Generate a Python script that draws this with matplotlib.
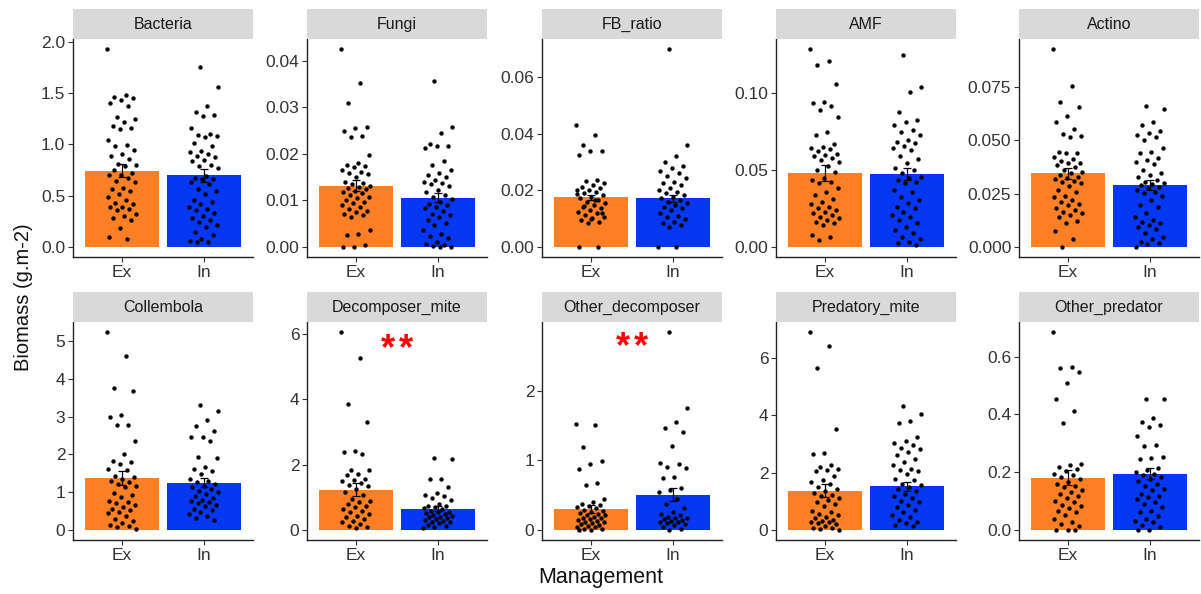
import numpy as np
import matplotlib
matplotlib.use("Agg")
import matplotlib.pyplot as plt

plt.rcParams['font.family'] = ['Liberation Sans', 'DejaVu Sans']

groups = ["Ex", "In"]
panels = ["Bacteria", "Fungi", "FB_ratio", "AMF", "Actino",
          "Collembola", "Decomposer_mite", "Other_decomposer", "Predatory_mite", "Other_predator"]

# bar heights (means) and standard errors: [Ex, In]
bar_mean = {
    "Bacteria": [0.744, 0.70], "Fungi": [0.0132, 0.0106], "FB_ratio": [0.0176, 0.0172],
    "AMF": [0.048, 0.0473], "Actino": [0.0345, 0.029], "Collembola": [1.38, 1.25],
    "Decomposer_mite": [1.24, 0.65], "Other_decomposer": [0.30, 0.51],
    "Predatory_mite": [1.38, 1.52], "Other_predator": [0.181, 0.195],
}
bar_se = {
    "Bacteria": [0.065, 0.065], "Fungi": [0.0012, 0.0010], "FB_ratio": [0.0009, 0.0012],
    "AMF": [0.0054, 0.004], "Actino": [0.0025, 0.0025], "Collembola": [0.19, 0.12],
    "Decomposer_mite": [0.19, 0.08], "Other_decomposer": [0.06, 0.09],
    "Predatory_mite": [0.24, 0.15], "Other_predator": [0.025, 0.02],
}

bacteria_ex = [1.93, 1.48, 1.46, 1.45, 1.43, 1.40, 1.37, 1.27, 1.25, 1.22, 1.18, 1.16, 1.15, 1.04, 0.99,
               0.98, 0.95, 0.91, 0.89, 0.86, 0.81, 0.80, 0.79, 0.75, 0.72, 0.70, 0.70, 0.67, 0.64, 0.63,
               0.58, 0.57, 0.55, 0.52, 0.49, 0.46, 0.43, 0.42, 0.39, 0.39, 0.37, 0.36, 0.32, 0.30, 0.28,
               0.26, 0.19, 0.10, 0.08]
bacteria_in = [1.75, 1.56, 1.37, 1.32, 1.29, 1.28, 1.16, 1.10, 1.09, 1.08, 1.07, 1.01, 0.98, 0.94, 0.93,
               0.91, 0.89, 0.88, 0.85, 0.84, 0.80, 0.79, 0.77, 0.69, 0.67, 0.66, 0.66, 0.63, 0.61, 0.57,
               0.55, 0.52, 0.46, 0.44, 0.42, 0.39, 0.37, 0.36, 0.33, 0.30, 0.28, 0.26, 0.24, 0.22, 0.20,
               0.15, 0.12, 0.08, 0.06, 0.05, 0.05]
fungi_ex = [0.0425, 0.0352, 0.031, 0.0257, 0.0255, 0.0248, 0.0239, 0.0236, 0.0198, 0.018, 0.0175, 0.0173,
            0.0171, 0.0166, 0.016, 0.0158, 0.0156, 0.0151, 0.014, 0.0137, 0.0135, 0.0131, 0.0128, 0.0126,
            0.0124, 0.0121, 0.0119, 0.0115, 0.0112, 0.0108, 0.0105, 0.0101, 0.0097, 0.0094, 0.009, 0.0087,
            0.0082, 0.0078, 0.0075, 0.0072, 0.0069, 0.0064, 0.0037, 0.0029, 0.0027, 0.0004, 0.0001, 0.0]
fungi_in = [0.0357, 0.0257, 0.0245, 0.0221, 0.0217, 0.0216, 0.0212, 0.0185, 0.0176, 0.0166, 0.0158, 0.0155,
            0.0151, 0.0144, 0.014, 0.0138, 0.0135, 0.013, 0.0123, 0.0119, 0.0112, 0.0108, 0.0103, 0.0097,
            0.0092, 0.009, 0.0087, 0.0083, 0.0078, 0.0072, 0.0069, 0.0065, 0.0058, 0.0052, 0.0047, 0.0037,
            0.0029, 0.0024, 0.0019, 0.0011, 0.0006, 0.0004, 0.0002, 0.0001, 0.0]
fb_ex = [0.043, 0.0397, 0.0361, 0.034, 0.0338, 0.0326, 0.0237, 0.0234, 0.0228, 0.022, 0.0214, 0.0208,
         0.0202, 0.020, 0.0196, 0.019, 0.0184, 0.0178, 0.0172, 0.0167, 0.0161, 0.0155, 0.0149, 0.0143,
         0.0137, 0.0131, 0.0125, 0.0119, 0.0113, 0.0107, 0.0102, 0.0096, 0.009, 0.0086, 0.0186, 0.0165,
         0.0145, 0.0122, 0.0098, 0.0, 0.0]
fb_in = [0.070, 0.0359, 0.0322, 0.0299, 0.0285, 0.0279, 0.0267, 0.0261, 0.0252, 0.0243, 0.0231, 0.0226,
         0.022, 0.021, 0.0202, 0.0196, 0.019, 0.0184, 0.0178, 0.0172, 0.0167, 0.0161, 0.0155, 0.0149,
         0.0143, 0.0137, 0.0131, 0.0119, 0.011, 0.0105, 0.0098, 0.009, 0.0084, 0.0078, 0.0072, 0.0, 0.0]
amf_ex = [0.1286, 0.121, 0.118, 0.1059, 0.0944, 0.0935, 0.0913, 0.0887, 0.0844, 0.0744, 0.0729, 0.067,
          0.0649, 0.0642, 0.0636, 0.0625, 0.0603, 0.0599, 0.0592, 0.0577, 0.0566, 0.0555, 0.0523, 0.0497,
          0.049, 0.0447, 0.0436, 0.0425, 0.0419, 0.0382, 0.036, 0.0338, 0.031, 0.0295, 0.028, 0.0262,
          0.0252, 0.0241, 0.023, 0.0219, 0.0208, 0.0197, 0.0187, 0.0176, 0.0165, 0.0154, 0.0143, 0.0078,
          0.0063, 0.0046]
amf_in = [0.1245, 0.1037, 0.1006, 0.0874, 0.0826, 0.0809, 0.0794, 0.0757, 0.0744, 0.0729, 0.0696, 0.0685,
          0.0675, 0.0653, 0.0642, 0.0631, 0.0592, 0.057, 0.0544, 0.0512, 0.0497, 0.0479, 0.0458, 0.0447,
          0.0436, 0.0425, 0.0414, 0.0371, 0.036, 0.0328, 0.0306, 0.0284, 0.0262, 0.0252, 0.023, 0.0208,
          0.0197, 0.0176, 0.0154, 0.0132, 0.0111, 0.0089, 0.0067, 0.005, 0.0035, 0.0024, 0.0013]
actino_ex = [0.0927, 0.0755, 0.0677, 0.0653, 0.0611, 0.0583, 0.0552, 0.0528, 0.052, 0.0514, 0.0447, 0.0442,
             0.0439, 0.0423, 0.0411, 0.0405, 0.0395, 0.0392, 0.0384, 0.0373, 0.0361, 0.0353, 0.0345, 0.0338,
             0.033, 0.0322, 0.0317, 0.0311, 0.0306, 0.0298, 0.0286, 0.0267, 0.0259, 0.0239, 0.0233, 0.022,
             0.0213, 0.0202, 0.0197, 0.0181, 0.0173, 0.0166, 0.0158, 0.015, 0.0139, 0.0123, 0.0114, 0.0077,
             0.0036, 0.0]
actino_in = [0.0658, 0.0647, 0.0583, 0.0572, 0.0544, 0.0536, 0.0525, 0.0514, 0.0502, 0.0463, 0.0447, 0.0439,
             0.0416, 0.0408, 0.040, 0.0389, 0.0361, 0.0345, 0.0338, 0.033, 0.0314, 0.0306, 0.0302, 0.0295,
             0.0291, 0.0283, 0.0275, 0.0267, 0.0259, 0.0252, 0.0239, 0.022, 0.0197, 0.0186, 0.0158, 0.0142,
             0.0127, 0.0119, 0.0114, 0.0103, 0.0092, 0.0083, 0.0064, 0.0048, 0.0036, 0.0025, 0.0017, 0.0013,
             0.0]
coll_ex = [5.24, 4.59, 3.75, 3.69, 3.03, 2.99, 2.78, 2.77, 2.35, 2.01, 1.82, 1.79, 1.75, 1.62, 1.59, 1.44,
           1.40, 1.35, 1.31, 1.26, 1.22, 1.17, 1.13, 0.98, 0.93, 0.87, 0.78, 0.75, 0.72, 0.66, 0.62, 0.57,
           0.54, 0.49, 0.44, 0.38, 0.29, 0.25, 0.19, 0.13, 0.10, 0.07, 0.03]
coll_in = [3.30, 3.16, 2.92, 2.75, 2.63, 2.47, 2.46, 2.35, 1.93, 1.90, 1.66, 1.62, 1.55, 1.48, 1.35, 1.31,
           1.26, 1.22, 1.17, 1.13, 1.09, 1.04, 1.00, 0.95, 0.89, 0.84, 0.80, 0.78, 0.75, 0.72, 0.66, 0.63,
           0.57, 0.54, 0.47, 0.42, 0.38, 0.31, 0.27]
dmite_ex = [6.06, 5.26, 3.85, 3.29, 2.41, 2.39, 2.32, 1.85, 1.83, 1.72, 1.67, 1.57, 1.52, 1.49, 1.45, 1.38,
            1.34, 1.26, 1.16, 1.06, 0.95, 0.90, 0.85, 0.80, 0.75, 0.70, 0.65, 0.59, 0.54, 0.49, 0.44, 0.39,
            0.34, 0.29, 0.24, 0.18, 0.13, 0.08, 0.05]
dmite_in = [2.21, 2.18, 1.57, 1.55, 1.31, 1.14, 1.08, 1.04, 0.97, 0.93, 0.80, 0.75, 0.73, 0.70, 0.67, 0.63,
            0.59, 0.56, 0.54, 0.51, 0.49, 0.46, 0.44, 0.41, 0.39, 0.36, 0.34, 0.31, 0.29, 0.26, 0.24, 0.21,
            0.17, 0.13, 0.08, 0.05]
odec_ex = [1.52, 1.51, 1.19, 0.99, 0.95, 0.88, 0.67, 0.65, 0.45, 0.40, 0.37, 0.36, 0.34, 0.33, 0.31, 0.29,
           0.28, 0.26, 0.24, 0.23, 0.22, 0.21, 0.19, 0.18, 0.17, 0.16, 0.14, 0.13, 0.12, 0.11, 0.10, 0.09,
           0.07, 0.06, 0.05, 0.04, 0.02, 0.01, 0.0, 0.0]
odec_in = [2.84, 1.75, 1.55, 1.47, 1.40, 1.21, 0.96, 0.95, 0.91, 0.89, 0.76, 0.74, 0.60, 0.58, 0.54, 0.44,
           0.37, 0.31, 0.26, 0.23, 0.21, 0.19, 0.18, 0.17, 0.16, 0.14, 0.13, 0.12, 0.11, 0.10, 0.09, 0.07,
           0.05, 0.02, 0.0]
pmite_ex = [6.91, 6.43, 5.65, 3.52, 2.70, 2.67, 2.26, 2.20, 2.14, 2.08, 2.05, 1.88, 1.73, 1.67, 1.61, 1.50,
            1.42, 1.35, 1.30, 1.23, 1.18, 1.11, 1.06, 0.99, 0.91, 0.83, 0.68, 0.62, 0.56, 0.53, 0.44, 0.41,
            0.36, 0.33, 0.29, 0.27, 0.25, 0.21, 0.15, 0.09, 0.06, 0.04, 0.0]
pmite_in = [4.34, 4.04, 3.81, 3.72, 3.25, 3.11, 3.02, 2.98, 2.87, 2.82, 2.73, 2.61, 2.49, 2.37, 2.28, 2.14,
            2.08, 2.05, 1.96, 1.79, 1.73, 1.61, 1.56, 1.50, 1.42, 1.35, 1.26, 1.20, 1.11, 1.03, 0.97, 0.88,
            0.80, 0.71, 0.62, 0.53, 0.44, 0.36, 0.29, 0.25, 0.18, 0.13]
opred_ex = [0.685, 0.565, 0.56, 0.548, 0.51, 0.452, 0.411, 0.371, 0.229, 0.224, 0.218, 0.212, 0.203, 0.195,
            0.189, 0.183, 0.177, 0.166, 0.16, 0.154, 0.148, 0.14, 0.133, 0.125, 0.119, 0.11, 0.102, 0.096,
            0.087, 0.082, 0.075, 0.067, 0.061, 0.052, 0.038, 0.027, 0.021, 0.015, 0.0, 0.0, 0.0]
opred_in = [0.453, 0.452, 0.386, 0.372, 0.363, 0.357, 0.325, 0.295, 0.291, 0.253, 0.249, 0.247, 0.214, 0.206,
            0.20, 0.195, 0.189, 0.183, 0.177, 0.171, 0.16, 0.154, 0.142, 0.137, 0.125, 0.119, 0.114, 0.108,
            0.098, 0.09, 0.079, 0.067, 0.061, 0.05, 0.038, 0.032, 0.027, 0.017, 0.009, 0.0, 0.0]

points = {
    "Bacteria": [bacteria_ex, bacteria_in], "Fungi": [fungi_ex, fungi_in], "FB_ratio": [fb_ex, fb_in],
    "AMF": [amf_ex, amf_in], "Actino": [actino_ex, actino_in], "Collembola": [coll_ex, coll_in],
    "Decomposer_mite": [dmite_ex, dmite_in], "Other_decomposer": [odec_ex, odec_in],
    "Predatory_mite": [pmite_ex, pmite_in], "Other_predator": [opred_ex, opred_in],
}

yticks = {
    "Bacteria": ([0, 0.5, 1.0, 1.5, 2.0], "{:.1f}"), "Fungi": ([0, 0.01, 0.02, 0.03, 0.04], "{:.2f}"),
    "FB_ratio": ([0, 0.02, 0.04, 0.06], "{:.2f}"), "AMF": ([0, 0.05, 0.10], "{:.2f}"),
    "Actino": ([0, 0.025, 0.05, 0.075], "{:.3f}"), "Collembola": ([0, 1, 2, 3, 4, 5], "{:.0f}"),
    "Decomposer_mite": ([0, 2, 4, 6], "{:.0f}"), "Other_decomposer": ([0, 1, 2], "{:.0f}"),
    "Predatory_mite": ([0, 2, 4, 6], "{:.0f}"), "Other_predator": ([0, 0.2, 0.4, 0.6], "{:.1f}"),
}

# significance annotations: panel -> (label, y of glyph centre)
signif = {"Decomposer_mite": ("**", 5.85), "Other_decomposer": ("**", 2.77)}

colors = ["#FF7F24", "#0437F2"]

W, H = 1201, 594
fig = plt.figure(figsize=(W / 100, H / 100), dpi=100)

lefts = [73, 307, 542, 776, 1019]
pw = 180
rows = [(39, 257), (322, 540)]
strip_h = 30

golden = 0.6180339887
star_fs = 26

for i, name in enumerate(panels):
    r, c = divmod(i, 5)
    top, bottom = rows[r]
    ax = fig.add_axes([lefts[c] / W, (H - bottom) / H, pw / W, (bottom - top) / H])
    sax = fig.add_axes([lefts[c] / W, (H - top) / H, pw / W, strip_h / H])
    sax.set_xticks([]); sax.set_yticks([])
    for s in sax.spines.values():
        s.set_visible(False)
    sax.set_facecolor("#D9D9D9")
    sax.text(0.5, 0.47, name, ha="center", va="center", fontsize=11.5, color="#1A1A1A",
             transform=sax.transAxes)

    xs = np.arange(1, 3)
    ax.bar(xs, bar_mean[name], width=0.9, color=colors, zorder=1)
    allmax = 0
    for k, vals in enumerate(points[name]):
        vals = np.asarray(vals)
        n = len(vals)
        offs = ((np.arange(n) * golden + 0.37 * k) % 1.0 - 0.5) * 0.36
        ax.scatter(xs[k] + offs, vals, s=10, color="black", zorder=3, linewidths=0)
        allmax = max(allmax, vals.max())
    ax.errorbar(xs, bar_mean[name], yerr=bar_se[name], fmt="none", ecolor="black",
                elinewidth=0.9, capsize=3, capthick=0.9, zorder=4)
    if name in signif:
        lab, yy = signif[name]
        nch = len(lab)
        for j, ch in enumerate(lab):
            ax.annotate(ch, xy=(1.5, yy), xytext=((j - (nch - 1) / 2) * 12.5, -0.57 * star_fs),
                        textcoords="offset points", ha="center", va="baseline",
                        color="red", fontsize=star_fs, fontweight="bold")
    ymin = 0
    rng = allmax - ymin
    ax.set_ylim(ymin - 0.05 * rng, allmax + 0.05 * rng)
    ax.set_xlim(0.4, 2.6)
    ticks, fmt = yticks[name]
    ax.set_yticks(ticks)
    ax.set_yticklabels([fmt.format(t) for t in ticks])
    ax.set_xticks(xs)
    ax.set_xticklabels(groups)
    for s in ["top", "right"]:
        ax.spines[s].set_visible(False)
    for s in ["left", "bottom"]:
        ax.spines[s].set_color("#222222")
        ax.spines[s].set_linewidth(1.0)
    ax.tick_params(axis="both", labelsize=12.5, colors="#333333", length=3.5, width=0.8,
                   labelcolor="#333333", pad=2)

fig.text(0.5, (H - 578) / H, "Management", ha="center", va="center", fontsize=15.5, color="#111111")
fig.text(24 / W, 0.5, "Biomass (g.m-2)", ha="center", va="center", rotation=90, fontsize=14.5,
         color="#111111")

fig.savefig("out.png", dpi=100)
